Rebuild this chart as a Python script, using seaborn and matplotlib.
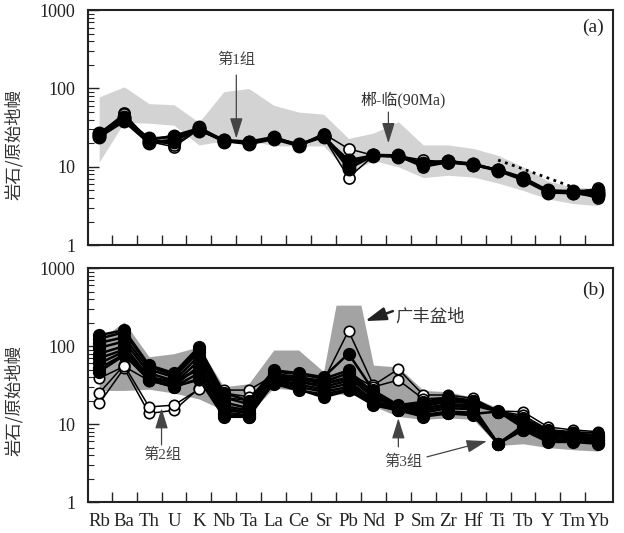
import numpy as np
import pandas as pd
import matplotlib
matplotlib.use('Agg')
import matplotlib.pyplot as plt
from matplotlib.ticker import FixedLocator, LogLocator, NullFormatter
import seaborn as sns

# 元素顺序 (原始地幔标准化蛛网图)
elements = ['Rb', 'Ba', 'Th', 'U', 'K', 'Nb', 'Ta', 'La', 'Ce', 'Sr', 'Pb',
            'Nd', 'P', 'Sm', 'Zr', 'Hf', 'Ti', 'Tb', 'Y', 'Tm', 'Yb']

# ---- 图(a) 第1组样品 ----
a_s1 = [27, 43, 22, 25, 31, 22, 20, 23.5, 19, 25, 11, 14, 13.8, 11, 11.6, 10.8, 9.1, 7.1, 4.9, 4.8, 4.7]
a_s2 = [25, 40, 21, 22, 30, 21, 20.5, 23, 19.5, 24.5, 9.5, 13.8, 13.5, 10.8, 11.8, 11, 9, 7, 4.8, 4.7, 4.5]
a_s3 = [24, 38, 20, 21, 32, 21.5, 19.5, 22.5, 18.5, 25.5, 10.5, 14.2, 14, 11.2, 12, 10.5, 9.2, 7.3, 5, 4.9, 5.0]
a_s4 = [26, 42, 23, 24, 29, 22, 21, 24, 19, 24, 12.2, 14, 13.6, 10.5, 11.4, 10.6, 8.9, 6.8, 4.7, 4.6, 4.3]
a_o1 = [25.5, 48, 21, 18, 30, 21, 20, 23, 19, 26.5, 17, 14, 13.8, 12.2, 11.5, 10.8, 9, 7, 4.8, 4.7, 4.0]
a_o2 = [27, 47, 22, 19, 31, 21.5, 20, 23, 19, 24, 7.3, 13.8, 13.5, 9.9, 11.3, 10.5, 9, 7.1, 4.9, 4.7, 5.3]
# 虚线 (Ti-Tm)
a_dot_el = ['Ti', 'Tb', 'Y', 'Tm']
a_dot = [12.2, 9.4, 7.2, 5.5]
# 郴-临(90Ma) 范围
a_band_hi = [78, 105, 64, 62, 37, 91, 100, 61, 50, 47, 23, 27, 37.6, 19, 19, 17.2, 14, 10, 6.6, 5.5, 5.3]
a_band_lo = [11.5, 37, 36, 34, 19, 21.5, 22, 18.5, 18.5, 18.5, 8.4, 12, 10, 7.3, 7.8, 7.4, 6.2, 5, 3.9, 3.4, 3.2]

# ---- 图(b) 第2组/第3组样品 ----
b_f1 = [138, 160, 57, 45, 98, 25, 20, 49, 45, 40, 80, 27, 17.5, 19.3, 22, 20, 14.7, 11.8, 8.4, 7.6, 7.2]
b_f2 = [125, 150, 55, 42, 92, 22, 18, 47, 44, 38, 49, 25, 17, 18, 21, 19.5, 14.5, 11, 8, 7.3, 7]
b_f3 = [110, 130, 50, 40, 85, 19, 16, 44, 40, 35, 45, 23, 16.5, 17, 19.5, 18.5, 14.5, 10.5, 7.6, 7, 6.8]
b_f4 = [95, 115, 45, 36, 75, 17, 15, 42, 38, 33, 40, 22, 16, 16, 18, 17.5, 14.5, 10, 7.2, 6.8, 6.5]
b_f5 = [80, 100, 40, 33, 65, 15, 14, 40, 35, 30, 36, 20, 15.5, 15, 17, 16.5, 5.6, 9.5, 7, 6.5, 6.3]
b_f6 = [70, 90, 38, 31, 55, 14, 13, 38, 32, 28, 33, 19, 15, 14, 16, 15.5, 5.6, 9, 6.5, 6.2, 6]
b_f7 = [60, 85, 37, 30, 45, 13, 12.5, 36, 30, 26, 30, 18, 15, 13, 14.5, 14, 5.6, 8.5, 6.2, 6, 5.8]
b_f8 = [52, 78, 36.5, 30, 38, 12.4, 12.4, 34, 28, 22, 27, 17.5, 15, 12.5, 13.7, 13, 5.6, 8.4, 5.9, 5.9, 5.6]
b_f9 = [47, 76, 40, 35, 50, 16, 14, 33, 27, 24, 28, 18, 15.5, 13, 14, 13.5, 14.5, 9, 6, 6, 5.8]
b_o1 = [18.4, 52, 13.7, 15, 28.7, 27.3, 27.3, 42, 40, 36, 157, 31.6, 50.7, 23.6, 23.6, 21.4, 14.7, 14.4, 9.2, 8.4, 8]
b_o2 = [25, 57, 16.6, 17.5, 28, 25, 22.4, 40, 37, 34, 45, 30, 36.7, 21, 22, 20, 14.5, 13, 8.5, 8, 7.6]
b_o3 = [38.6, 55, 36, 30, 36.5, 22, 20, 38, 35, 32, 38, 25, 17, 18, 20, 19, 14.5, 11, 7.8, 7.8, 7.8]
# 广丰盆地 范围 (x 为元素序号)
b_band_x = [0, 1, 2, 3, 4, 5, 6, 7, 8, 9, 9.5, 10.5, 11, 12, 13, 14, 15, 16, 17, 18, 19, 20]
b_band_hi = [120, 204, 73, 80, 98, 30, 33, 89, 89, 47, 335, 335, 57, 54, 27, 26, 22, 16, 13, 9, 7.5, 6.5]
b_band_lo = [27, 27, 28, 25, 21, 15, 13.5, 29, 27, 25, 24.5, 23, 17, 12.5, 11.5, 12, 11.5, 5.3, 5.6, 5, 4.7, 4.5]

pos = np.arange(len(elements))


def long_form(series, kind):
    rows = []
    for name, vals in series.items():
        for p, el, v in zip(pos, elements, vals):
            rows.append({'sample': name, 'kind': kind, 'pos': p, 'element': el, 'value': v})
    return pd.DataFrame(rows)


df_a = pd.concat([long_form({'o1': a_o1, 'o2': a_o2}, 'open'),
                  long_form({'s1': a_s1, 's2': a_s2, 's3': a_s3, 's4': a_s4}, 'filled')])
df_b = pd.concat([long_form({'o1': b_o1, 'o2': b_o2, 'o3': b_o3}, 'open'),
                  long_form({'f1': b_f1, 'f2': b_f2, 'f3': b_f3, 'f4': b_f4, 'f5': b_f5,
                             'f6': b_f6, 'f7': b_f7, 'f8': b_f8, 'f9': b_f9}, 'filled')])

sns.set_style('ticks')
plt.rcParams['font.family'] = ['Liberation Serif', 'Noto Sans CJK SC']
plt.rcParams['axes.edgecolor'] = '#222222'
plt.rcParams['axes.linewidth'] = 1.5

fig = plt.figure(figsize=(6.24, 5.33), dpi=100)
ax_a = fig.add_axes([0.141, 0.540, 0.841, 0.441])
ax_b = fig.add_axes([0.141, 0.058, 0.841, 0.439])

cjk = ['Liberation Serif', 'Noto Sans CJK SC']


def draw_samples(ax, df, msize):
    # 空心样品先画, 实心样品压在上面
    for (name, kind), g in df.groupby(['sample', 'kind'], sort=False):
        if kind == 'filled':
            sns.lineplot(data=g, x='pos', y='value', ax=ax, color='k', linewidth=1.8,
                         marker='o', markersize=msize, markerfacecolor='k',
                         markeredgecolor='k', markeredgewidth=1, sort=False,
                         estimator=None, legend=False, zorder=4)
        else:
            sns.lineplot(data=g, x='pos', y='value', ax=ax, color='k', linewidth=1.1,
                         marker='o', markersize=msize - 1, markerfacecolor='white',
                         markeredgecolor='k', markeredgewidth=1.2, sort=False,
                         estimator=None, legend=False, zorder=3)


def style_axis(ax, show_labels):
    ax.set_yscale('log')
    ax.set_ylim(1, 1000)
    ax.set_xlim(-0.45, 20.6)
    ax.yaxis.set_major_locator(FixedLocator([1, 10, 100, 1000]))
    ax.set_yticklabels(['1', '10', '100', '1000'])
    ax.yaxis.set_minor_locator(LogLocator(base=10, subs=range(2, 10)))
    ax.yaxis.set_minor_formatter(NullFormatter())
    ax.tick_params(axis='y', which='major', direction='in', length=8, width=1,
                   labelsize=13, pad=9, colors='#222222', right=False)
    ax.tick_params(axis='y', which='minor', direction='in', length=4, width=0.8, right=False)
    ax.set_xticks(pos)
    if show_labels:
        ax.set_xticklabels(elements)
    else:
        ax.set_xticklabels([])
    ax.tick_params(axis='x', which='major', length=0, labelsize=13.5, pad=8, colors='#222222')
    ax.xaxis.set_minor_locator(FixedLocator(pos[:-1] + 0.5))
    ax.tick_params(axis='x', which='minor', direction='in', length=7, width=1, top=False)
    ax.set_xlabel('')
    ax.set_ylabel('岩石/原始地幔', fontsize=12.5, color='#333333',
                  family=['Noto Sans CJK SC', 'DejaVu Sans'])
    for s in ax.spines.values():
        s.set_visible(True)
        s.set_color('#222222')
        s.set_linewidth(1.5)


arrow = dict(arrowstyle='-|>,head_length=0.9,head_width=0.28', color='#444444',
             lw=0.9, shrinkA=0, shrinkB=0, mutation_scale=14)

# ---- 图(a) ----
ax_a.fill_between(pos, a_band_lo, a_band_hi, color='#d3d3d3', lw=0, zorder=1)
draw_samples(ax_a, df_a, 9)
dot_pos = [elements.index(e) for e in a_dot_el]
sns.lineplot(x=dot_pos, y=a_dot, ax=ax_a, color='k', linewidth=2, linestyle=':',
             legend=False, zorder=5)
style_axis(ax_a, False)
ax_a.yaxis.set_label_coords(-0.124, 0.43)
ax_a.text(0.963, 0.925, '(a)', transform=ax_a.transAxes, ha='center', va='center',
          fontsize=14, color='#222222')
ax_a.annotate('', xy=(5.5, 23), xytext=(5.5, 148), arrowprops=arrow, zorder=6)
ax_a.text(5.5, 230, '第1组', ha='center', va='center', fontsize=11,
          color='#444444', family=cjk)
ax_a.annotate('', xy=(11.6, 20), xytext=(11.6, 50), arrowprops=arrow, zorder=6)
ax_a.text(12.2, 71, '郴-临(90Ma)', ha='center', va='center', fontsize=11.5,
          color='#333333', family=cjk)

# ---- 图(b) ----
ax_b.fill_between(b_band_x, b_band_lo, b_band_hi, color='#a3a3a3', lw=0, zorder=1)
draw_samples(ax_b, df_b, 8.5)
style_axis(ax_b, True)
ax_b.yaxis.set_label_coords(-0.124, 0.436)
ax_b.text(0.963, 0.906, '(b)', transform=ax_b.transAxes, ha='center', va='center',
          fontsize=14, color='#222222')
ax_b.annotate('', xy=(10.66, 209), xytext=(11.78, 281),
              arrowprops=dict(arrow, color='#222222', lw=1.8), zorder=6)
ax_b.text(11.86, 236, '广丰盆地', ha='left', va='center', fontsize=12.5,
          color='#333333', family=cjk)
ax_b.annotate('', xy=(2.5, 16), xytext=(2.5, 5.4), arrowprops=arrow, zorder=6)
ax_b.text(2.52, 4.0, '第2组', ha='center', va='center', fontsize=11,
          color='#444444', family=cjk)
ax_b.annotate('', xy=(12.0, 11.9), xytext=(12.0, 5.1), arrowprops=arrow, zorder=6)
ax_b.annotate('', xy=(15.55, 6.05), xytext=(13.15, 3.8), arrowprops=arrow, zorder=6)
ax_b.text(12.18, 3.26, '第3组', ha='center', va='center', fontsize=11,
          color='#444444', family=cjk)

fig.savefig('out.png', dpi=100)
